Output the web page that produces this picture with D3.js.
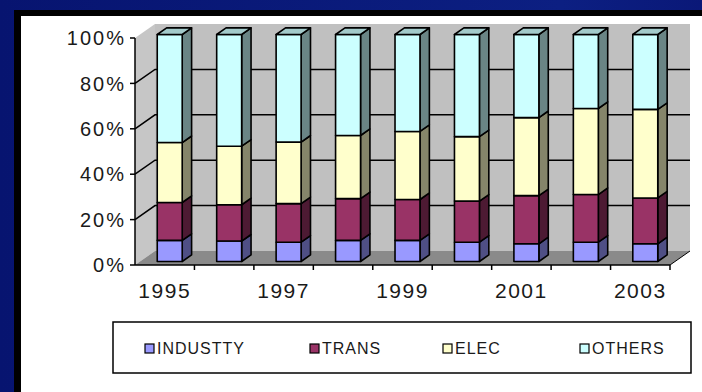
<!DOCTYPE html>
<html>
<head>
<meta charset="utf-8">
<script src="https://cdn.jsdelivr.net/npm/d3@7"></script>
<style>
  html, body { margin: 0; padding: 0; }
  body { width: 702px; height: 392px; overflow: hidden; }
  svg { display: block; font-family: Arial, "Liberation Sans", sans-serif; }
</style>
</head>
<body>
<div id="chart"></div>
<script>
// chart values (percent share of each year)
const years = ["1995", "1996", "1997", "1998", "1999", "2000", "2001", "2002", "2003"];
const seriesNames = ["INDUSTTY", "TRANS", "ELEC", "OTHERS"];
const industty = [9.3, 9.0, 8.5, 9.3, 9.3, 8.5, 7.8, 8.5, 7.8];
const trans    = [16.7, 16.0, 17.0, 18.4, 18.0, 18.1, 21.2, 21.0, 20.2];
const elec     = [26.4, 25.8, 27.1, 27.8, 30.0, 28.4, 34.4, 37.9, 39.0];
const others   = [47.6, 49.2, 47.4, 44.5, 42.7, 45.0, 36.6, 32.6, 33.0];
const yTicks = [0, 20, 40, 60, 80, 100];
const xLabels = ["1995", "1997", "1999", "2001", "2003"];

const front = { INDUSTTY: "#9999ff", TRANS: "#993366", ELEC: "#ffffcc", OTHERS: "#ccffff" };
const side  = { INDUSTTY: "#4f4f85", TRANS: "#4d1a33", ELEC: "#85856a", OTHERS: "#6a8585" };
const topC  = { INDUSTTY: "#7a7acc", TRANS: "#7a2952", ELEC: "#ccccaa", OTHERS: "#a3caca" };

const W = 702, H = 392;
const svg = d3.select("#chart").append("svg")
    .attr("width", W).attr("height", H);

// dark blue slide background
const defs = svg.append("defs");
const grad = defs.append("linearGradient").attr("id", "bg")
    .attr("x1", 0).attr("y1", 0).attr("x2", 1).attr("y2", 0);
grad.append("stop").attr("offset", "0%").attr("stop-color", "#071470");
grad.append("stop").attr("offset", "80%").attr("stop-color", "#0c1f82");
grad.append("stop").attr("offset", "100%").attr("stop-color", "#0a1878");
svg.append("rect").attr("width", W).attr("height", H).attr("fill", "url(#bg)");
svg.append("rect").attr("x", 14).attr("y", 10).attr("width", W - 14).attr("height", H - 10).attr("fill", "#000");
svg.append("rect").attr("x", 21).attr("y", 16).attr("width", W - 21).attr("height", H - 16).attr("fill", "#fff");

// stacked data
const rows = years.map((yr, i) => ({
    year: yr, INDUSTTY: industty[i], TRANS: trans[i], ELEC: elec[i], OTHERS: others[i]
}));
rows.forEach(r => {
    const tot = seriesNames.reduce((s, k) => s + r[k], 0);
    seriesNames.forEach(k => r[k] = r[k] / tot * 100);
});
const stacked = d3.stack().keys(seriesNames)(rows);

// scales for the front plane, depth handled as an offset
const x = d3.scaleBand().domain(years).range([135, 670]);
const y = d3.scaleLinear().domain([0, 100]).range([265, 38]);
const DX = 20, DY = -14;
const P = (px, py, z) => [px + z * DX, py + z * DY];
const poly = pts => "M" + pts.map(p => p.join(",")).join("L") + "Z";

const x0 = x.range()[0], x1 = x.range()[1];

// walls and floor
svg.append("path").attr("d", poly([P(x0, y(0), 1), P(x1, y(0), 1), P(x1, y(100), 1), P(x0, y(100), 1)]))
    .attr("fill", "#c0c0c0");
svg.append("path").attr("d", poly([P(x0, y(0), 0), P(x0, y(0), 1), P(x0, y(100), 1), P(x0, y(100), 0)]))
    .attr("fill", "#c6c6c6");
svg.append("path").attr("d", poly([P(x0, y(0), 0), P(x1, y(0), 0), P(x1, y(0), 1), P(x0, y(0), 1)]))
    .attr("fill", "#8a8a8a");

// gridlines on back wall and left wall
const grid = svg.append("g").attr("stroke", "#000").attr("stroke-width", 1.5).attr("fill", "none");
yTicks.filter(t => t > 0 && t < 100).forEach(t => {
    grid.append("path").attr("d", "M" + P(x0, y(t), 0) + "L" + P(x0, y(t), 1) + "L" + P(x1, y(t), 1));
});

// bars
const zf = 0.25, zb = 0.72;
const bw = x.bandwidth() * 0.42;
const bars = svg.append("g").attr("stroke", "#000").attr("stroke-width", 1.6).attr("stroke-linejoin", "round");
years.forEach((yr, i) => {
    const cx = x(yr) + x.bandwidth() / 2;
    const L = cx - bw / 2, R = cx + bw / 2;
    stacked.forEach((s, k) => {
        const key = s.key;
        const lo = s[i][0], hi = s[i][1];
        bars.append("path")
            .attr("d", poly([P(R, y(lo), zf), P(R, y(lo), zb), P(R, y(hi), zb), P(R, y(hi), zf)]))
            .attr("fill", side[key]);
        bars.append("path")
            .attr("d", poly([P(L, y(lo), zf), P(R, y(lo), zf), P(R, y(hi), zf), P(L, y(hi), zf)]))
            .attr("fill", front[key]);
        if (k === stacked.length - 1) {
            bars.append("path")
                .attr("d", poly([P(L, y(hi), zf), P(R, y(hi), zf), P(R, y(hi), zb), P(L, y(hi), zb)]))
                .attr("fill", topC[key]);
        }
    });
});

// axes
const ax = svg.append("g").attr("stroke", "#000").attr("stroke-width", 1.5).attr("fill", "none");
ax.append("line").attr("x1", x0).attr("x2", x0).attr("y1", y(0)).attr("y2", y(100));
ax.append("line").attr("x1", x0).attr("x2", x1).attr("y1", y(0)).attr("y2", y(0));
ax.append("path").attr("d", "M" + P(x1, y(0), 0) + "L" + P(x1, y(0), 1)).attr("stroke-width", 1);
yTicks.forEach(t => {
    ax.append("line").attr("x1", x0 - 5).attr("x2", x0).attr("y1", y(t)).attr("y2", y(t));
});
years.forEach(yr => {
    ax.append("line").attr("x1", x(yr) + x.bandwidth()).attr("x2", x(yr) + x.bandwidth())
        .attr("y1", y(0)).attr("y2", y(0) + 5);
});

svg.append("g").selectAll("text").data(yTicks).join("text")
    .attr("x", 126).attr("y", d => y(d)).attr("dy", "0.36em")
    .attr("text-anchor", "end").attr("font-size", 20).attr("letter-spacing", 2)
    .attr("fill", "#1a1a1a").text(d => d + "%");

svg.append("g").selectAll("text").data(xLabels).join("text")
    .attr("x", d => x(d) + x.bandwidth() / 2).attr("y", 298)
    .attr("text-anchor", "middle").attr("font-size", 21).attr("letter-spacing", 1.5)
    .attr("fill", "#1a1a1a").text(d => d);

// legend
svg.append("rect").attr("x", 113).attr("y", 322).attr("width", 578).attr("height", 51)
    .attr("fill", "#fff").attr("stroke", "#000").attr("stroke-width", 1.5);
const legX = [145, 310, 443, 580];
const leg = svg.append("g").selectAll("g").data(seriesNames).join("g")
    .attr("transform", (d, i) => `translate(${legX[i]},344)`);
leg.append("rect").attr("width", 9).attr("height", 9)
    .attr("fill", d => front[d]).attr("stroke", "#000").attr("stroke-width", 1.2);
leg.append("text").attr("x", 12).attr("y", 10).attr("font-size", 16).attr("letter-spacing", 1)
    .attr("fill", "#1a1a1a").text(d => d);
</script>
</body>
</html>
